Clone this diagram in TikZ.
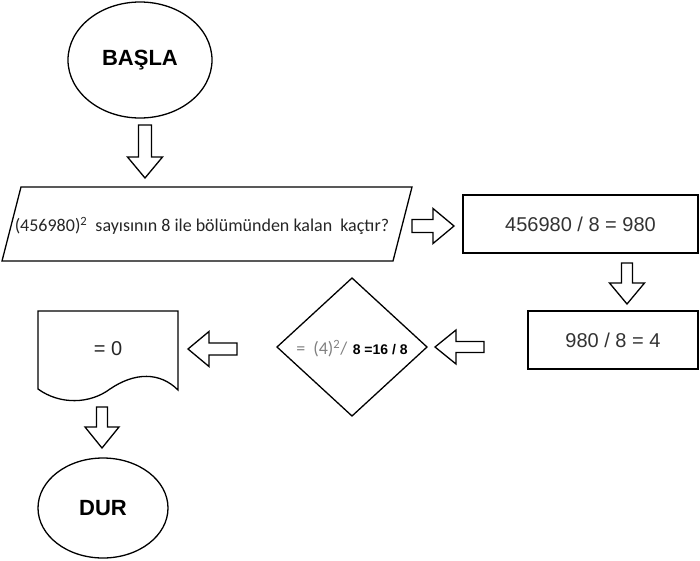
\documentclass[tikz,border=0pt]{standalone}
\usepackage{fontspec}
\setmainfont{Liberation Sans}
\newfontfamily\arialf{Liberation Sans}
\newfontfamily\calibrif{Carlito}
\usetikzlibrary{shapes.geometric}
\tikzset{
  every picture/.style={x=1pt,y=-1pt},
  outline/.style={draw=black,line width=1.3pt},
  terminal/.style={outline,ellipse,inner sep=0pt,font=\arialf\bfseries\fontsize{22}{26}\selectfont},
  procbox/.style={outline,rectangle,inner sep=0pt,font=\arialf\fontsize{20}{24}\selectfont,text=black!80},
  plain/.style={inner sep=0pt},
  blkarrow/.style={draw=black,line width=1.3pt,fill=white,line join=miter}
}
\newcommand\blockarrow[5]{% start, rotation, length, shaft half, head half
  \draw[blkarrow,shift={(#1)},rotate=#2] (0,-#4) -- (#3-21,-#4) -- (#3-21,-#5) -- (#3,0) -- (#3-21,#5) -- (#3-21,#4) -- (0,#4) -- cycle;}
\begin{document}
\begin{tikzpicture}
\useasboundingbox (0,0) rectangle (700,560);
% start
\node[terminal,minimum width=144pt,minimum height=116pt] (basla) at (140,60) {BAŞLA};
% input parallelogram
\node[plain,font=\calibrif\fontsize{18}{22}\selectfont,text=black!85] (inp) at (202,226) {(456980)\textsuperscript{2}\ \ sayısının 8 ile bölümünden kalan\ \ kaçtır?};
\draw[outline] (21,187) -- (412,187) -- (393,261) -- (2,261) -- cycle;
% process boxes
\node[procbox,minimum width=235pt,minimum height=58pt] (r1) at (580.5,224) {456980 / 8 = 980};
\node[procbox,minimum width=170pt,minimum height=58pt] (r2) at (613,340) {980 / 8 = 4};
% decision
\node[plain] (dia) at (352,349) {{\calibrif\fontsize{18}{22}\selectfont\color{black!50}=\ \ (4)\textsuperscript{2}/}\ \ {\arialf\bfseries\fontsize{14}{16}\selectfont 8 =16 / 8}};
\draw[outline] (277,347) -- (352,278) -- (427,347) -- (352,416) -- cycle;
% document
\node[plain,font=\arialf\fontsize{20}{24}\selectfont,text=black!85] (doc) at (108,349) {= 0};
\draw[outline] (38,389) -- (38,311) -- (178,311) -- (178,390)
  .. controls (160,372) and (135,372) .. (110,389)
  .. controls (90,404) and (60,405) .. (38,389) -- cycle;
% end
\node[terminal,minimum width=130pt,minimum height=100pt] (dur) at (103,508) {DUR};
% block arrows
\coordinate (a1) at (145,125);
\coordinate (a2) at (412,226);
\coordinate (a3) at (627,263);
\coordinate (a4) at (484,347);
\coordinate (a5) at (237,349);
\coordinate (a6) at (102,407);
\blockarrow{a1}{-90}{53}{6.5}{17.5}
\blockarrow{a2}{0}{42}{6.5}{17.5}
\blockarrow{a3}{-90}{41}{5.5}{17.5}
\blockarrow{a4}{180}{49}{5.5}{17}
\blockarrow{a5}{180}{49}{6}{17.5}
\blockarrow{a6}{-90}{41}{5.5}{17}
\end{tikzpicture}
\end{document}
